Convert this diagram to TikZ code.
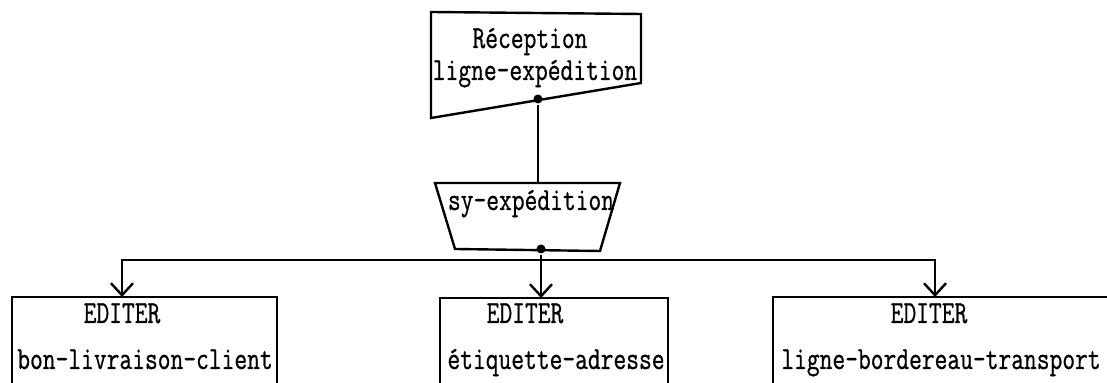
\documentclass[tikz,border=0pt]{standalone}
\usepackage{fontspec}
\newfontfamily\tyfont{Latin Modern Mono}[FakeBold=0.8]
\usetikzlibrary{arrows.meta}
\newcommand\tall[1]{\scalebox{1}[1.3]{#1}}
\tikzset{
  txt/.style={anchor=base,inner sep=0pt,font=\fontsize{12.4}{14}\tyfont},
  arr/.style={-{Straight Barb[length=6pt,width=11pt]}},
  dot/.style={circle,fill,inner sep=0pt,minimum size=4.5pt}
}
\begin{document}
\begin{tikzpicture}[x=0.5pt,y=-0.5pt,line width=1.2pt]
      \useasboundingbox (0,0) rectangle (1107,383);
      % reception
      \draw (431,12) -- (641,14) -- (641,83) -- (431,118) -- cycle;
      \node[txt] (rec1) at (530,48) {\tall{Réception}};
      \node[txt] (rec2) at (535,80) {\tall{ligne-expédition}};
      \node[dot] (recdot) at (538,99) {};
      % sy-expedition
      \draw (435,183) -- (620,183) -- (600,251) -- (455,249) -- cycle;
      \coordinate (sytop) at (538,183);
      \node[txt] (sy) at (531,210) {\tall{sy-expédition}};
      \node[dot] (sydot) at (541,249) {};
      % edit boxes
      \draw (12,383) -- (12,297) -- (277,297) -- (277,383);
      \draw (440,383) -- (440,298) -- (668,298) -- (668,383);
      \draw (773,383) -- (773,297) -- (1110,297);
      \coordinate (lefttop) at (122,297);
      \coordinate (midtop) at (541,298);
      \coordinate (righttop) at (935,297);
      \node[txt] (ed1) at (122,323) {\tall{EDITER}};
      \node[txt] (bon) at (145,369) {\tall{bon-livraison-client}};
      \node[txt] (ed2) at (525,323) {\tall{EDITER}};
      \node[txt] (eti) at (556,369) {\tall{étiquette-adresse}};
      \node[txt] (ed3) at (929,323) {\tall{EDITER}};
      \node[txt] (lig) at (941,369) {\tall{ligne-bordereau-transport}};
      % links
      \coordinate (split) at (541,260);
      \draw (recdot) -- (sytop);
      \draw[arr] (sydot) -- (midtop);
      \draw[arr] (split) -| (lefttop);
      \draw[arr] (split) -| (righttop);
    \end{tikzpicture}
\end{document}
